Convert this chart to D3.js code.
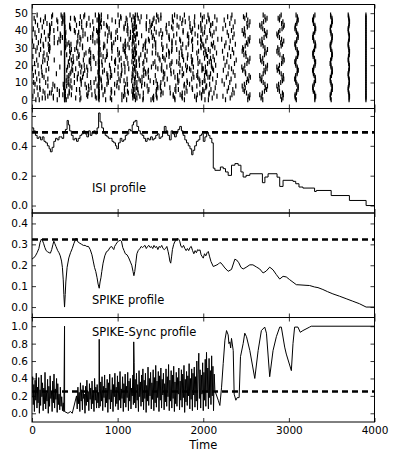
<!DOCTYPE html>
<html>
<head>
<meta charset="utf-8">
<script src="https://cdn.jsdelivr.net/npm/d3@7"></script>
<style>
  body { margin: 0; background: #fff; }
  svg { display: block; font-family: "DejaVu Sans", sans-serif; }
</style>
</head>
<body>
<div id="chart"></div>
<script>
// ---- raster: background spikes per train (0..49)
const randomSpikes = [
  [45, 85, 295, 385, 400, 560, 860, 930, 1050, 1105, 1295, 1390, 1420, 1670, 1780, 1920, 2060],
  [120, 155, 250, 510, 570, 750, 775, 915, 1225, 1300, 1410, 1460, 1665, 1755, 1920, 1980],
  [10, 185, 250, 390, 420, 650, 740, 785, 1070, 1190, 1260, 1420, 1455, 1650, 1750, 1900, 1980],
  [70, 320, 360, 460, 640, 700, 830, 1050, 1085, 1175, 1450, 1505, 1650, 1730, 1930, 1980],
  [150, 205, 225, 435, 560, 655, 925, 965, 1125, 1240, 1300, 1530, 1615, 1755, 1785, 1960, 2070],
  [25, 130, 320, 390, 435, 735, 850, 930, 1080, 1115, 1355, 1450, 1510, 1680, 1810, 2010],
  [95, 235, 295, 520, 555, 665, 850, 925, 1185, 1235, 1365, 1455, 1670, 1710, 1875, 1995],
  [60, 90, 370, 465, 635, 690, 815, 1015, 1080, 1225, 1470, 1500, 1610, 1800, 1870, 2030],
  [185, 265, 405, 445, 660, 760, 815, 990, 1280, 1345, 1465, 1500, 1680, 1775, 1925, 2035],
  [35, 245, 365, 430, 575, 620, 875, 965, 1095, 1115, 1315, 1465, 1550, 1780, 1840, 1960],
  [20, 160, 420, 495, 685, 725, 890, 995, 1225, 1285, 1420, 1505, 1705, 1815, 1990],
  [90, 400, 455, 575, 810, 890, 1030, 1075, 1265, 1380, 1450, 1715, 1810, 1960, 2020],
  [55, 185, 430, 530, 565, 745, 805, 1015, 1110, 1250, 1530, 1580, 1700, 1865, 1950],
  [140, 410, 530, 590, 790, 880, 915, 1170, 1285, 1360, 1540, 1670, 1890, 1935, 2075],
  [15, 120, 430, 495, 645, 885, 930, 1040, 1235, 1305, 1440, 1700, 1755, 1925, 2015],
  [80, 285, 445, 540, 600, 875, 1005, 1045, 1230, 1330, 1550, 1625, 1770, 1880, 2040],
  [40, 115, 455, 570, 770, 825, 920, 1085, 1325, 1355, 1535, 1655, 1725, 1935, 2040],
  [165, 405, 475, 615, 650, 845, 965, 1050, 1300, 1360, 1515, 1620, 1805, 1855, 1985],
  [5, 195, 465, 510, 690, 785, 915, 1130, 1200, 1310, 1470, 1510, 1755, 1840, 1990, 2110],
  [110, 325, 415, 580, 640, 785, 1005, 1085, 1200, 1395, 1445, 1575, 1815, 1885, 2025],
  [70, 435, 560, 610, 820, 905, 1045, 1220, 1255, 1515, 1610, 1730, 1795, 1985, 2095],
  [30, 180, 470, 550, 685, 745, 975, 1075, 1120, 1295, 1415, 1625, 1715, 1870, 1940],
  [125, 425, 485, 670, 775, 815, 965, 1220, 1305, 1435, 1635, 1690, 1865, 1960, 2095],
  [55, 150, 260, 460, 600, 670, 855, 975, 1020, 1250, 1340, 1495, 1555, 1770, 1875],
  [190, 440, 525, 685, 725, 930, 1040, 1110, 1250, 1485, 1540, 1720, 1815, 1935, 2085],
  [10, 130, 480, 545, 715, 830, 870, 1095, 1185, 1320, 1525, 1600, 1760, 1860, 2050],
  [85, 175, 405, 550, 610, 805, 880, 1005, 1270, 1320, 1470, 1570, 1750, 1820, 2035],
  [140, 340, 450, 630, 685, 780, 1020, 1090, 1220, 1405, 1445, 1605, 1720, 1925, 2005],
  [45, 205, 440, 535, 665, 875, 935, 1080, 1170, 1345, 1595, 1630, 1750, 1945, 2030],
  [100, 195, 460, 500, 675, 795, 1000, 1065, 1205, 1295, 1525, 1635, 1690, 1875, 2020],
  [60, 210, 390, 520, 590, 835, 930, 1090, 1135, 1325, 1445, 1530, 1740, 1800, 1975],
  [20, 135, 205, 395, 440, 590, 850, 935, 1065, 1095, 1300, 1410, 1575, 1635, 1875, 1970, 2110],
  [130, 190, 410, 455, 560, 840, 930, 1085, 1120, 1320, 1440, 1515, 1760, 1825, 1995],
  [75, 260, 300, 430, 525, 735, 790, 955, 1245, 1325, 1445, 1635, 1680, 1830, 1935],
  [5, 100, 330, 395, 535, 710, 760, 880, 1090, 1175, 1330, 1370, 1635, 1735, 1865, 1980],
  [160, 205, 315, 570, 650, 785, 975, 1035, 1135, 1360, 1430, 1605, 1725, 1875, 1970],
  [50, 260, 355, 390, 560, 685, 925, 1000, 1150, 1210, 1405, 1515, 1600, 1830, 1970],
  [110, 190, 335, 535, 595, 710, 885, 925, 1190, 1280, 1415, 1600, 1655, 1815, 1935],
  [35, 205, 330, 390, 620, 710, 855, 925, 1120, 1230, 1485, 1525, 1690, 1820, 1905, 2085],
  [145, 210, 395, 505, 545, 765, 900, 980, 1150, 1395, 1450, 1575, 1765, 1865, 2015],
  [80, 205, 255, 495, 595, 755, 790, 995, 1110, 1180, 1365, 1505, 1765, 1855, 1975],
  [15, 215, 300, 450, 720, 780, 900, 1075, 1120, 1335, 1430, 1565, 1645, 1875, 1985],
  [120, 210, 385, 440, 580, 810, 880, 1075, 1180, 1220, 1380, 1630, 1715, 1845, 1945],
  [65, 205, 440, 520, 635, 680, 870, 1020, 1115, 1335, 1395, 1570, 1695, 1900, 1970, 2085],
  [175, 230, 350, 555, 640, 800, 840, 1090, 1200, 1335, 1405, 1600, 1750, 1845, 1970],
  [40, 135, 300, 360, 580, 710, 795, 975, 1020, 1260, 1375, 1450, 1650, 1790, 1895],
  [100, 290, 360, 505, 760, 810, 935, 1110, 1205, 1415, 1480, 1640, 1760, 1990, 2070],
  [25, 155, 360, 450, 495, 665, 780, 1040, 1100, 1240, 1425, 1505, 1730, 1835, 1990],
  [155, 230, 350, 565, 605, 790, 885, 1035, 1275, 1340, 1470, 1640, 1695, 1900, 2010],
  [60, 240, 340, 375, 615, 740, 810, 1005, 1145, 1230, 1455, 1505, 1665, 1780, 1970]
];

// perfectly synchronous events (every train spikes at the same time)
const exactEvents = [380, 3900];

// jittered events: centre time + per-train offset
const jitterEvents = [780, 1190, 2080, 2300, 2500, 2705, 2900, 3090, 3295, 3495, 3700];
const j780 = [3,-2,5,0,-4,6,1,-3,2,-6,4,0,-1,7,-5,2,3,-2,0,5,-4,1,6,-3,2,-1,4,-5,0,3,-2,5,1,-4,2,0,-6,3,1,-2,4,-3,0,6,-1,2,-5,3,0,-2];
const j1190 = [18,-12,8,24,-5,-22,11,28,-15,3,14,-25,6,17,-9,-19,22,0,-14,9,27,-6,-23,12,5,-17,20,-3,15,-11,8,25,-20,2,-8,19,-14,11,30,-5,-12,9,22,-19,3,14,-27,6,-9,17];
const j2080 = [-60,25,80,-15,45,-85,10,60,-40,-5,70,-70,30,-25,85,5,-55,40,-80,20,65,-30,-10,50,-65,35,-45,75,0,-20,55,-75,15,40,-50,90,-35,25,-85,45,-5,70,-60,10,30,-40,80,-15,55,-25];
const j2300 = [-40,15,-70,35,60,-20,45,-5,80,-55,10,-80,25,-30,70,-10,50,-65,30,0,-45,65,-25,85,-60,20,-15,55,-75,40,5,-50,75,-35,15,-85,45,-5,60,-20,30,-70,50,-40,10,70,-55,25,-15,35];
const j2500 = [20,40,25,45,5,-20,-35,-10,-45,-20,5,30,15,50,35,-5,-10,-40,-25,-50,-15,10,35,20,45,0,-25,-5,-45,-30,-40,-10,20,5,40,25,45,-10,-30,-15,-45,-20,15,35,10,45,20,-15,-30,5];
const j2705 = [-10,-30,-20,-45,-15,10,35,20,45,15,-5,-25,-40,-20,-45,-5,20,5,40,25,45,0,-20,-35,-10,-40,10,30,15,45,15,-5,-30,-15,-45,-20,5,35,20,40,10,-10,-30,-45,-20,0,25,40,15,-5];
const j2900 = [15,30,5,35,25,-10,-30,-15,-40,-20,5,25,40,20,35,10,-10,-35,-20,-40,-10,15,30,45,20,35,-5,-25,-40,-15,-30,10,25,5,40,15,-10,-30,-40,-20,-5,20,35,45,15,30,-10,-25,-5,10];
const j3090 = [-3,-14,-18,-17,-2,1,16,18,19,4,-7,-11,-22,-13,-10,6,9,20,10,7,-8,-12,-21,-9,-5,11,14,22,9,6,-10,-13,-20,-16,0,3,18,17,13,-1,-5,-19,-16,-12,3,5,19,11,8,-6];
const j3295 = [8,9,18,7,5,-9,-11,-17,-14,0,2,16,14,13,1,-8,-10,-18,-7,-4,10,11,17,5,3,-11,-12,-16,-6,4,5,18,13,11,-4,-7,-17,-11,-9,6,8,18,10,8,-7,-9,-18,-8,-5,9];
const j3495 = [-1,-10,-9,-12,0,2,12,9,12,-1,-3,-12,-9,-10,2,3,13,8,10,-3,-4,-13,-8,-7,4,5,13,7,6,-6,-6,-12,-11,-2,5,7,11,12,-2,-3,-11,-10,-9,3,4,13,9,8,-4,-8];
const j3700 = [3,4,8,2,1,-5,-6,-7,0,2,7,5,4,-3,-5,-8,-1,0,6,7,6,-1,-2,-8,-4,-3,5,4,8,1,0,-6,-7,-4,-2,6,5,7,1,-4,-5,-8,-2,2,4,8,3,-1,-3,-7];
const eventJitter = [j780, j1190, j2080, j2300, j2500, j2705, j2900, j3090, j3295, j3495, j3700];

// ---- ISI profile (step function), [time, value]
const isiProfile = [
  [0,.52],[20,.50],[40,.47],[60,.45],[80,.46],[100,.44],[120,.46],[140,.43],[160,.42],[180,.40],
  [200,.38],[215,.36],[235,.39],[255,.43],[275,.45],[295,.44],[315,.46],[335,.46],[350,.45],[370,.49],
  [390,.51],[410,.57],[425,.54],[440,.50],[460,.47],[480,.44],[500,.45],[520,.43],[540,.45],[560,.47],
  [580,.48],[600,.50],[620,.48],[640,.46],[660,.50],[680,.47],[700,.49],[720,.50],[740,.48],[760,.52],
  [778,.62],[795,.56],[815,.52],[835,.49],[855,.47],[875,.46],[895,.45],[915,.45],[935,.43],[955,.42],
  [975,.40],[990,.38],[1010,.42],[1030,.45],[1050,.43],[1070,.44],[1090,.47],[1110,.48],[1130,.51],[1150,.50],
  [1170,.54],[1185,.56],[1205,.57],[1225,.53],[1245,.50],[1265,.48],[1285,.47],[1305,.45],[1325,.43],[1345,.45],
  [1365,.44],[1385,.46],[1405,.44],[1425,.45],[1445,.47],[1465,.48],[1485,.45],[1505,.46],[1525,.49],[1545,.53],
  [1565,.50],[1585,.47],[1605,.44],[1625,.50],[1645,.48],[1665,.46],[1685,.49],[1705,.51],[1725,.53],[1745,.50],
  [1765,.47],[1785,.44],[1805,.42],[1825,.40],[1845,.38],[1865,.34],[1880,.37],[1900,.40],[1920,.43],[1940,.44],
  [1960,.47],[1980,.48],[2000,.43],[2020,.46],[2040,.49],[2060,.47],[2078,.45],[2100,.42],[2117,.25],[2136,.236],
  [2200,.258],[2233,.247],[2260,.225],[2291,.202],[2330,.27],[2370,.281],[2408,.27],[2440,.225],[2466,.191],[2500,.202],
  [2544,.213],[2691,.153],[2720,.191],[2757,.213],[2862,.19],[2893,.128],[2932,.169],[3048,.162],[3080,.146],[3118,.124],
  [3164,.117],[3300,.094],[3320,.101],[3494,.067],[3707,.034],[3902,0],[4000,0]
];
const isiMean = 0.49;

// ---- SPIKE profile (piecewise linear), [time, value]
const spikeProfile = [
  [0,.23],[20,.235],[40,.245],[60,.26],[80,.28],[95,.31],[110,.325],[120,.32],[135,.305],[150,.285],
  [165,.27],[180,.265],[200,.26],[215,.258],[230,.275],[245,.30],[255,.315],[265,.305],[280,.29],[300,.27],
  [315,.26],[330,.245],[345,.22],[355,.19],[365,.13],[372,.06],[380,0],[388,.06],[395,.12],[410,.19],
  [430,.235],[450,.26],[470,.28],[490,.305],[505,.32],[515,.33],[525,.32],[540,.31],[560,.305],[580,.30],
  [600,.295],[620,.295],[640,.29],[660,.29],[680,.275],[700,.25],[715,.22],[730,.19],[745,.17],[760,.14],
  [772,.11],[785,.09],[795,.12],[805,.14],[815,.17],[830,.21],[850,.245],[870,.265],[890,.27],[910,.285],
  [930,.29],[945,.28],[955,.275],[965,.29],[980,.30],[995,.31],[1010,.315],[1030,.32],[1045,.315],[1060,.285],
  [1075,.27],[1090,.255],[1110,.25],[1130,.235],[1150,.215],[1165,.20],[1180,.17],[1190,.15],[1200,.17],[1212,.21],
  [1225,.255],[1240,.27],[1260,.28],[1275,.29],[1290,.285],[1305,.29],[1320,.295],[1335,.28],[1350,.29],[1365,.295],
  [1380,.285],[1395,.29],[1410,.28],[1425,.295],[1440,.285],[1455,.29],[1470,.275],[1485,.29],[1500,.285],[1515,.295],
  [1530,.28],[1545,.275],[1560,.28],[1575,.29],[1590,.265],[1600,.245],[1610,.22],[1620,.21],[1630,.24],[1640,.275],
  [1655,.30],[1670,.315],[1685,.32],[1700,.33],[1712,.325],[1725,.315],[1740,.29],[1755,.285],[1770,.295],[1785,.28],
  [1800,.27],[1815,.28],[1830,.27],[1845,.285],[1860,.29],[1875,.27],[1890,.255],[1905,.27],[1920,.26],[1935,.275],
  [1950,.27],[1962,.274],[1975,.25],[1990,.24],[2000,.234],[2015,.255],[2030,.245],[2045,.26],[2059,.266],[2075,.24],
  [2090,.218],[2117,.194],[2150,.20],[2175,.205],[2194,.213],[2210,.21],[2253,.187],[2291,.171],[2330,.18],[2369,.229],
  [2390,.225],[2415,.212],[2440,.19],[2466,.182],[2500,.19],[2544,.202],[2580,.202],[2620,.192],[2660,.182],[2699,.163],
  [2735,.172],[2776,.191],[2815,.178],[2854,.155],[2893,.134],[2932,.147],[2970,.144],[3009,.131],[3048,.119],[3087,.107],
  [3130,.106],[3200,.104],[3242,.103],[3300,.096],[3340,.093],[3397,.084],[3450,.074],[3514,.063],[3591,.052],[3669,.04],
  [3746,.028],[3824,.016],[3902,0],[4000,0]
];
const spikeMean = 0.323;

// ---- SPIKE-Sync profile, [time, value]
const syncProfile = [
  [0,.18],[8,.42],[15,.10],[22,.33],[28,.02],[36,.38],[44,.15],[50,.46],[58,.06],[65,.30],
  [71,.12],[79,.41],[86,0],[94,.27],[101,.09],[108,.44],[116,.19],[123,.35],[130,.03],[138,.29],
  [146,.11],[152,.47],[160,.05],[167,.24],[175,.14],[182,.39],[190,0],[197,.31],[205,.08],[212,.43],
  [220,.17],[227,.26],[235,.02],[242,.37],[250,.12],[257,.45],[264,.06],[272,.28],[279,.16],[287,.40],
  [294,.01],[301,.34],[309,.10],[316,.22],[324,.04],[331,.30],[339,.08],[347,.19],[356,.03],[365,.12],
  [372,.02],[380,1],[381,.02],[420,0],[450,.02],[470,0],[520,.2],[528,.05],[536,.30],[544,.11],
  [551,.24],[559,.02],[566,.35],[574,.14],[581,.27],[589,.04],[596,.32],[604,.17],[611,.22],[619,0],
  [626,.31],[634,.09],[641,.38],[649,.13],[656,.25],[664,.03],[671,.34],[679,.16],[686,.29],[694,.05],
  [701,.37],[709,.11],[716,.26],[724,.02],[731,.40],[739,.15],[746,.30],[754,.06],[761,.33],[769,.12],
  [776,.24],[782,.06],[785,.85],[789,.28],[796,.08],[803,.36],[811,.14],[818,.42],[826,.03],[833,.31],
  [841,.18],[848,.44],[856,.07],[863,.29],[871,.12],[878,.39],[886,.01],[893,.35],[901,.16],[908,.45],
  [916,.05],[923,.27],[931,.13],[938,.41],[946,.02],[953,.33],[961,.19],[968,.46],[976,.08],[983,.30],
  [991,.11],[998,.43],[1006,.04],[1013,.36],[1021,.15],[1028,.48],[1036,.06],[1043,.28],[1051,.17],[1058,.42],
  [1066,.02],[1073,.34],[1081,.12],[1088,.45],[1096,.07],[1103,.31],[1111,.18],[1118,.47],[1126,.03],[1133,.37],
  [1141,.14],[1148,.40],[1156,.05],[1163,.29],[1171,.20],[1178,.44],[1184,.10],[1188,.82],[1193,.58],[1198,.12],
  [1205,.39],[1213,.06],[1220,.46],[1228,.15],[1235,.33],[1243,.02],[1250,.49],[1258,.19],[1265,.36],[1273,.08],
  [1280,.44],[1288,.13],[1295,.51],[1303,.04],[1310,.38],[1318,.17],[1325,.46],[1333,.01],[1340,.32],[1348,.14],
  [1355,.53],[1363,.09],[1370,.40],[1378,.20],[1385,.47],[1393,.05],[1400,.35],[1408,.16],[1415,.50],[1423,.03],
  [1430,.41],[1438,.12],[1445,.55],[1453,.07],[1460,.37],[1468,.18],[1475,.48],[1483,.02],[1490,.43],[1498,.15],
  [1505,.52],[1513,.06],[1520,.39],[1528,.21],[1535,.46],[1543,.04],[1550,.34],[1558,.13],[1565,.51],[1573,.08],
  [1580,.42],[1588,.19],[1595,.56],[1603,.03],[1610,.38],[1618,.14],[1625,.49],[1633,.06],[1640,.44],[1648,.17],
  [1655,.54],[1663,.02],[1670,.36],[1678,.11],[1685,.47],[1693,.08],[1700,.41],[1708,.22],[1715,.52],[1723,.04],
  [1730,.37],[1738,.15],[1745,.50],[1753,.07],[1760,.45],[1768,.18],[1775,.55],[1783,.01],[1790,.39],[1798,.13],
  [1805,.48],[1813,.09],[1820,.43],[1828,.20],[1835,.57],[1843,.05],[1850,.40],[1858,.16],[1865,.51],[1873,.03],
  [1880,.46],[1888,.21],[1895,.53],[1903,.07],[1910,.42],[1918,.14],[1925,.60],[1933,.04],[1940,.45],[1948,.69],
  [1955,.17],[1963,.50],[1970,.06],[1978,.44],[1985,.22],[1993,.58],[2000,.03],[2008,.47],[2015,.15],[2023,.62],
  [2030,.08],[2038,.70],[2045,.24],[2053,.52],[2060,.05],[2068,.63],[2075,.18],[2083,.49],[2090,.10],[2098,.66],
  [2105,.20],[2113,.54],[2120,.03],[2128,.45],[2136,.26],[2175,.15],[2194,.09],[2214,.30],[2233,.57],[2253,.84],
  [2272,.95],[2291,.90],[2300,.80],[2311,.82],[2320,.75],[2330,.86],[2350,.72],[2361,.22],[2381,.15],[2396,.18],
  [2419,.18],[2435,.65],[2466,.80],[2485,.92],[2505,.88],[2544,.72],[2602,.40],[2641,.72],[2679,.95],[2718,.99],
  [2738,.92],[2776,.42],[2815,.72],[2854,.88],[2893,.99],[2912,.99],[2951,.76],[2970,.68],[3029,.49],[3048,.80],
  [3067,.99],[3106,.99],[3133,.93],[3164,.95],[3242,.99],[3261,1],[4000,1]
];
const syncMean = 0.25;

// ---- tick labels
const timeTicks = [0, 1000, 2000, 3000, 4000];
const rasterTicks = [0, 10, 20, 30, 40, 50];
const isiTicks = [0, 0.2, 0.4, 0.6];
const spikeTicks = [0, 0.1, 0.2, 0.3, 0.4];
const syncTicks = [0, 0.2, 0.4, 0.6, 0.8, 1.0];

// ---- layout
const width = 399, height = 459;
const left = 32, right = 374.5;

const svg = d3.select("#chart").append("svg")
  .attr("width", width)
  .attr("height", height);

const x = d3.scaleLinear().domain([0, 4000]).range([left, right]);

const panels = [
  { top: 4.5, bottom: 108.5, domain: [-5, 55], ticks: rasterTicks, fmt: d3.format("d") },
  { top: 108.5, bottom: 213, domain: [-0.05, 0.65], ticks: isiTicks, fmt: d3.format(".1f") },
  { top: 213, bottom: 317.5, domain: [-0.05, 0.45], ticks: spikeTicks, fmt: d3.format(".1f") },
  { top: 317.5, bottom: 422, domain: [-0.1, 1.1], ticks: syncTicks, fmt: d3.format(".1f") }
];
panels.forEach(p => {
  p.y = d3.scaleLinear().domain(p.domain).range([p.bottom, p.top]);
});

// clip paths so lines stay inside each panel
const defs = svg.append("defs");
panels.forEach((p, k) => {
  defs.append("clipPath").attr("id", "clip" + k)
    .append("rect")
    .attr("x", left).attr("y", p.top)
    .attr("width", right - left).attr("height", p.bottom - p.top);
});

// ---- raster
const spikes = [];
randomSpikes.forEach((row, i) => row.forEach(t => spikes.push({ t, i })));
exactEvents.forEach(t => randomSpikes.forEach((row, i) => spikes.push({ t, i })));
jitterEvents.forEach((t0, e) => eventJitter[e].forEach((j, i) => spikes.push({ t: t0 + j, i })));

const yr = panels[0].y;
svg.append("g").attr("clip-path", "url(#clip0)")
  .selectAll("line")
  .data(spikes)
  .enter()
  .append("line")
  .attr("x1", d => x(d.t)).attr("x2", d => x(d.t))
  .attr("y1", d => yr(d.i) - 2.5).attr("y2", d => yr(d.i) + 2.5)
  .attr("stroke", "#000")
  .attr("stroke-width", 1.2);

// ---- profiles
const profiles = [
  { k: 1, data: isiProfile, mean: isiMean, curve: d3.curveStepAfter },
  { k: 2, data: spikeProfile, mean: spikeMean, curve: d3.curveLinear },
  { k: 3, data: syncProfile, mean: syncMean, curve: d3.curveLinear }
];
profiles.forEach(pr => {
  const p = panels[pr.k];
  const g = svg.append("g").attr("clip-path", `url(#clip${pr.k})`);
  const line = d3.line().x(d => x(d[0])).y(d => p.y(d[1])).curve(pr.curve);
  g.append("path")
    .attr("d", line(pr.data))
    .attr("fill", "none")
    .attr("stroke", "#000")
    .attr("stroke-width", 1);
  // dashed mean line
  g.append("line")
    .attr("x1", left).attr("x2", right)
    .attr("y1", p.y(pr.mean)).attr("y2", p.y(pr.mean))
    .attr("stroke", "#000")
    .attr("stroke-width", 2.6)
    .attr("stroke-dasharray", "6,4");
});

// ---- labels inside panels
const labels = [
  { k: 1, text: "ISI profile", v: 0.092 },
  { k: 2, text: "SPIKE profile", v: 0.013 },
  { k: 3, text: "SPIKE-Sync profile", v: 0.89 }
];
labels.forEach(l => {
  svg.append("text")
    .attr("x", x(700))
    .attr("y", panels[l.k].y(l.v))
    .attr("font-size", "11.5px")
    .attr("fill", "#000")
    .text(l.text);
});

// ---- axes: inward ticks on all four sides
panels.forEach((p, k) => {
  const last = k === panels.length - 1;

  const yl = svg.append("g").attr("transform", `translate(${left},0)`)
    .call(d3.axisLeft(p.y).tickValues(p.ticks).tickFormat(p.fmt)
      .tickSizeInner(-4).tickSizeOuter(0).tickPadding(4));
  const yrAx = svg.append("g").attr("transform", `translate(${right},0)`)
    .call(d3.axisRight(p.y).tickValues(p.ticks).tickFormat("")
      .tickSizeInner(-4).tickSizeOuter(0));
  const xb = svg.append("g").attr("transform", `translate(0,${p.bottom})`)
    .call(d3.axisBottom(x).tickValues(timeTicks).tickFormat(last ? d3.format("d") : "")
      .tickSizeInner(-4).tickSizeOuter(0).tickPadding(4.5));
  const xt = svg.append("g").attr("transform", `translate(0,${p.top})`)
    .call(d3.axisTop(x).tickValues(timeTicks).tickFormat("")
      .tickSizeInner(-4).tickSizeOuter(0));

  [yl, yrAx, xb, xt].forEach(a => {
    a.select(".domain").remove();
    a.attr("font-family", null).attr("font-size", null);
    a.selectAll(".tick line").attr("stroke", "#000").attr("stroke-width", 0.8);
    a.selectAll("text").attr("font-size", "10.5px").attr("fill", "#000");
  });

  // frame
  svg.append("rect")
    .attr("x", left).attr("y", p.top)
    .attr("width", right - left).attr("height", p.bottom - p.top)
    .attr("fill", "none")
    .attr("stroke", "#000")
    .attr("stroke-width", 1);
});

// x axis title
svg.append("text")
  .attr("x", (left + right) / 2)
  .attr("y", 449)
  .attr("text-anchor", "middle")
  .attr("font-size", "11.5px")
  .attr("fill", "#000")
  .text("Time");
</script>
</body>
</html>
